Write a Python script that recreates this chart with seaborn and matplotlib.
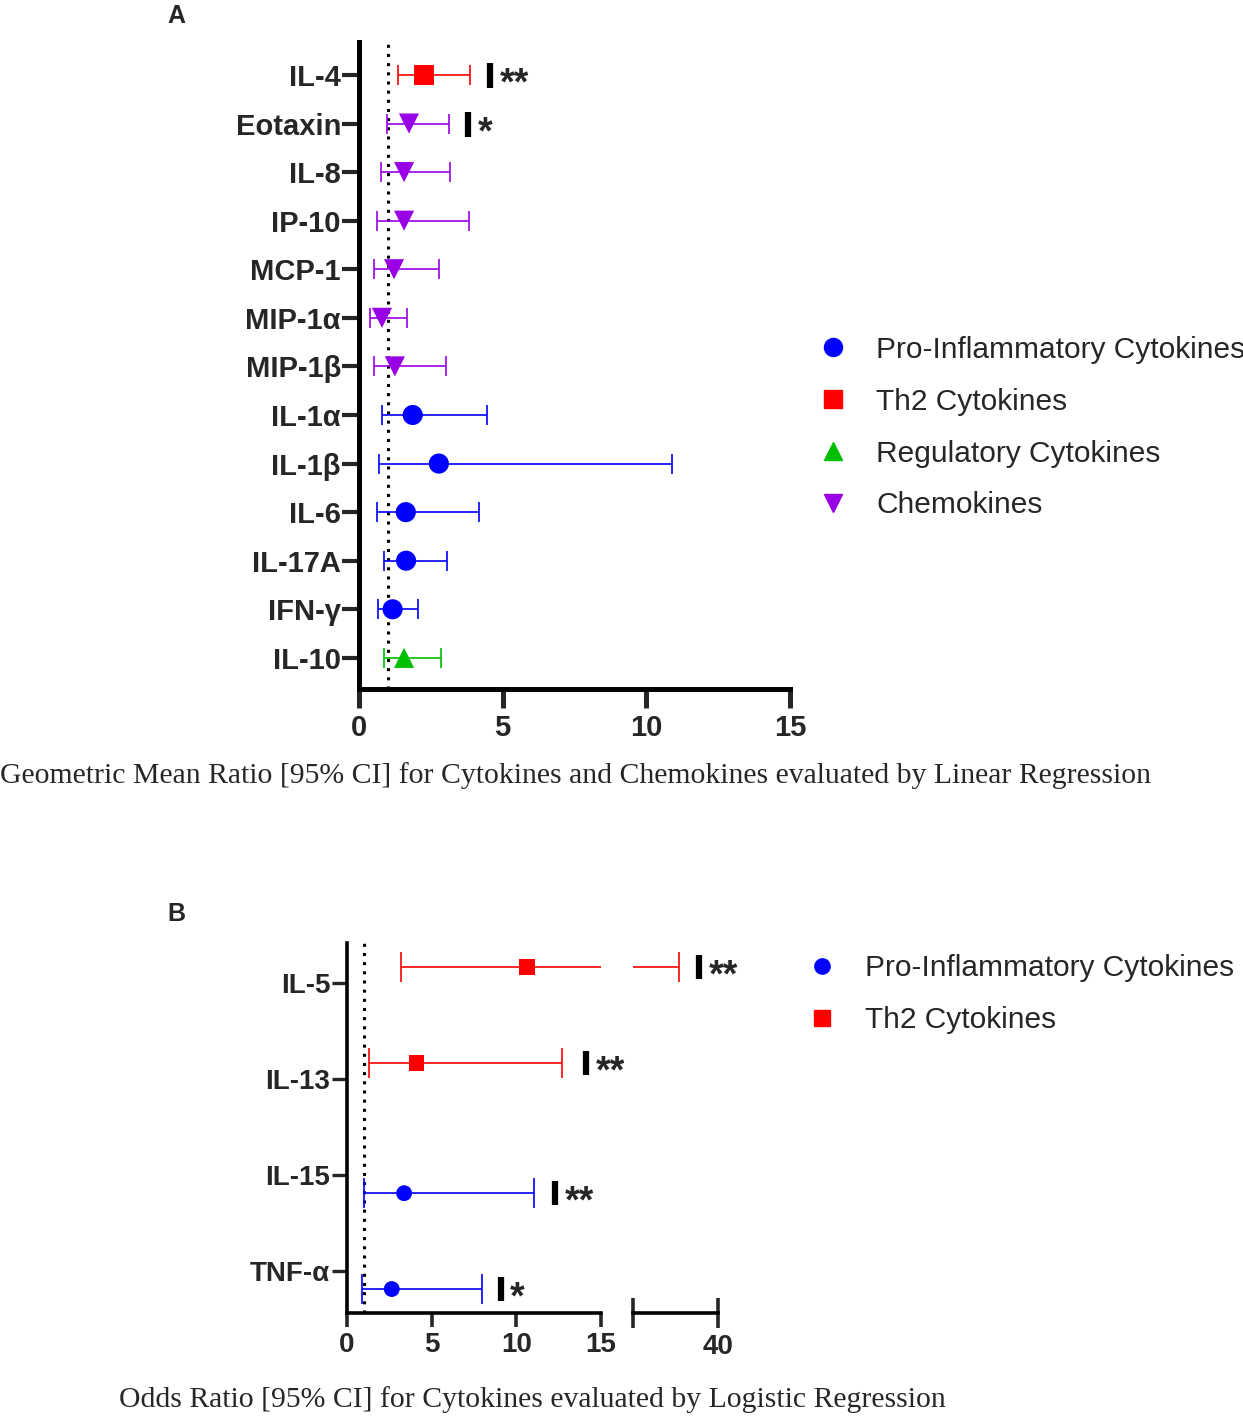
import pandas as pd
import matplotlib.pyplot as plt
from matplotlib.lines import Line2D
import seaborn as sns

# ==============================
# Settings
# ==============================
sns.set_theme(style="white")
plt.rcParams["font.family"] = ["Liberation Sans", "DejaVu Sans"]

COLORS = {"Pro": "#0000FF", "Th2": "#FF0000", "Regulatory": "#00BF00", "Chemokines": "#9A00E6"}
MARKERS = {"Pro": "o", "Th2": "s", "Regulatory": "^", "Chemokines": "v"}
LEGEND_NAMES = {"Pro": "Pro-Inflammatory Cytokines", "Th2": "Th2 Cytokines",
                "Regulatory": "Regulatory Cytokines", "Chemokines": "Chemokines"}

# ==============================
# Data - panel A (geometric mean ratio)
# ==============================
cyto_a = ["IL-4", "Eotaxin", "IL-8", "IP-10", "MCP-1", "MIP-1α", "MIP-1β",
          "IL-1α", "IL-1β", "IL-6", "IL-17A", "IFN-γ", "IL-10"]
group_a = ["Th2"] + ["Chemokines"] * 6 + ["Pro"] * 5 + ["Regulatory"]
gmr_a = [2.26, 1.74, 1.57, 1.57, 1.22, 0.80, 1.25, 1.87, 2.78, 1.63, 1.64, 1.17, 1.57]
lo_a = [1.36, 0.97, 0.77, 0.63, 0.52, 0.38, 0.52, 0.79, 0.69, 0.62, 0.87, 0.65, 0.87]
hi_a = [3.86, 3.13, 3.17, 3.83, 2.78, 1.67, 3.03, 4.46, 10.88, 4.18, 3.06, 2.06, 2.85]
sig_cyto_a = ["IL-4", "Eotaxin"]
sig_x_a = [4.56, 3.79]
sig_lab_a = ["**", "*"]

# ==============================
# Data - panel B (odds ratio)
# ==============================
cyto_b = ["IL-5", "IL-13", "IL-15", "TNF-α"]
group_b = ["Th2", "Th2", "Pro", "Pro"]
or_b = [10.65, 4.10, 3.37, 2.64]
lo_b = [3.20, 1.30, 1.00, 0.89]
hi_b = [35.4, 12.7, 11.07, 7.95]
sig_x_b = [37.8, 14.1, 12.3, 9.07]
sig_lab_b = ["**", "**", "**", "*"]
dodge_b = {"Th2": -0.17, "Pro": 0.19}

df_a = pd.DataFrame({"cyto": cyto_a, "group": group_a, "val": gmr_a, "lo": lo_a, "hi": hi_a})
df_a["pos"] = range(len(df_a))
df_b = pd.DataFrame({"cyto": cyto_b, "group": group_b, "val": or_b, "lo": lo_b, "hi": hi_b})
df_b["row"] = range(len(df_b))
df_b["pos"] = df_b["row"] + df_b["group"].map(dodge_b)

fig = plt.figure(figsize=(12.43, 14.17), dpi=100)


def draw_forest(ax, df, msize, lw, cap):
    for g, sub in df.groupby("group"):
        ax.errorbar(sub["val"], sub["pos"],
                    xerr=[sub["val"] - sub["lo"], sub["hi"] - sub["val"]],
                    fmt="none", ecolor=COLORS[g], elinewidth=lw, capsize=cap,
                    capthick=lw, zorder=2)
    sns.scatterplot(data=df, x="val", y="pos", hue="group", style="group",
                    palette=COLORS, markers=MARKERS, s=msize, linewidth=0,
                    legend=False, ax=ax, zorder=3)


def sig_mark(ax, x, y, lab, ms, mew, fs):
    ax.plot([x], [y], marker="|", markersize=ms, markeredgewidth=mew, color="black",
            linestyle="none", zorder=4)
    ax.annotate(lab, (x, y), xytext=(7, -7), textcoords="offset points",
                ha="left", va="center", fontsize=fs, fontweight="bold")


# ==============================
# Panel A
# ==============================
ax_a = fig.add_axes([0.2888, 0.5138, 0.3467, 0.4566])
draw_forest(ax_a, df_a, 210, 1.2, 7)
ax_a.axvline(1, color="black", linestyle=(0, (1, 2)), linewidth=2.2, zorder=1)
for c, x, lab in zip(sig_cyto_a, sig_x_a, sig_lab_a):
    y = df_a.loc[df_a["cyto"] == c, "pos"].iloc[0]
    sig_mark(ax_a, x, y, lab, 18, 4.5, 27)
ax_a.set_xlim(0, 15)
ax_a.set_ylim(len(cyto_a) - 1 + 0.64, -0.68)
ax_a.set_xticks([0, 5, 10, 15])
ax_a.set_yticks(df_a["pos"], df_a["cyto"])
ax_a.set_xlabel("")
ax_a.set_ylabel("")
sns.despine(ax=ax_a)
for s in ["left", "bottom"]:
    ax_a.spines[s].set_linewidth(3.6)
    ax_a.spines[s].set_color("black")
ax_a.tick_params(axis="y", length=12, width=3, labelsize=21, pad=1, left=True)
ax_a.tick_params(axis="x", length=14, width=3.6, labelsize=21, pad=4, bottom=True)
for t in ax_a.get_xticklabels() + ax_a.get_yticklabels():
    t.set_fontweight("bold")

order_a = ["Pro", "Th2", "Regulatory", "Chemokines"]
handles_a = [Line2D([], [], marker=MARKERS[g], color=COLORS[g], linestyle="none",
                    markersize=13) for g in order_a]
fig.legend(handles_a, [LEGEND_NAMES[g] for g in order_a],
           loc="upper left", bbox_to_anchor=(0.658, 0.763), frameon=False,
           fontsize=21.5, handlelength=1.0, handletextpad=0.95,
           labelspacing=0.8, borderpad=0, borderaxespad=0)

fig.text(0.1416, 0.989, "A", fontsize=18, fontweight="bold", ha="center", va="center")
fig.text(0.0, 0.4524, "Geometric Mean Ratio [95% CI] for Cytokines and Chemokines evaluated by Linear Regression",
         family=["Liberation Serif"], fontsize=21.4, ha="left", va="center")

# ==============================
# Panel B (broken x axis)
# ==============================
ax_b1 = fig.add_axes([0.2792, 0.0734, 0.2043, 0.2611])
ax_b2 = fig.add_axes([0.5093, 0.0734, 0.0684, 0.2611])
for ax, lim in [(ax_b1, (0, 15)), (ax_b2, (30, 40))]:
    draw_forest(ax, df_b, 130, 1.2, 11)
    ax.set_xlim(*lim)
    ax.set_ylim(len(cyto_b) - 1 + 0.44, -0.42)
    ax.set_xlabel("")
    ax.set_ylabel("")
    sns.despine(ax=ax)
    ax.spines["bottom"].set_linewidth(2.6)
    ax.spines["bottom"].set_color("black")
    for i, (x, lab) in enumerate(zip(sig_x_b, sig_lab_b)):
        if lim[0] <= x <= lim[1]:
            sig_mark(ax, x, df_b["pos"].iloc[i], lab, 17, 4.5, 27)

ax_b1.axvline(1, color="black", linestyle=(0, (1, 2)), linewidth=2.2, zorder=1)
ax_b1.spines["left"].set_linewidth(2.6)
ax_b1.spines["left"].set_color("black")
ax_b1.set_xticks([0, 5, 10, 15])
ax_b1.set_xticks([15], minor=True)
ax_b1.set_yticks(df_b["row"], df_b["cyto"])
ax_b1.tick_params(axis="y", length=11, width=2.4, labelsize=20, pad=1, left=True)
ax_b1.tick_params(axis="x", which="major", length=10, width=2.6, labelsize=20, pad=4, bottom=True)
ax_b1.tick_params(axis="x", which="minor", direction="in", length=11, width=2.6, bottom=True)

ax_b2.spines["left"].set_visible(False)
ax_b2.set_yticks([])
ax_b2.set_xticks([40])
ax_b2.set_xticks([30], minor=True)
ax_b2.tick_params(axis="x", which="both", direction="inout", length=22, width=2.6,
                  labelsize=20, pad=4, bottom=True)
for t in ax_b1.get_xticklabels() + ax_b1.get_yticklabels() + ax_b2.get_xticklabels():
    t.set_fontweight("bold")

order_b = ["Pro", "Th2"]
handles_b = [Line2D([], [], marker=MARKERS[g], color=COLORS[g], linestyle="none",
                    markersize=11) for g in order_b]
fig.legend(handles_b, [LEGEND_NAMES[g] for g in order_b],
           loc="upper left", bbox_to_anchor=(0.649, 0.3267), frameon=False,
           fontsize=21.5, handlelength=1.0, handletextpad=0.95,
           labelspacing=0.8, borderpad=0, borderaxespad=0)

fig.text(0.1416, 0.355, "B", fontsize=18, fontweight="bold", ha="center", va="center")
fig.text(0.428, 0.012, "Odds Ratio [95% CI] for Cytokines evaluated by Logistic Regression",
         family=["Liberation Serif"], fontsize=21.4, ha="center", va="center")

fig.savefig("out.png", dpi=100)
